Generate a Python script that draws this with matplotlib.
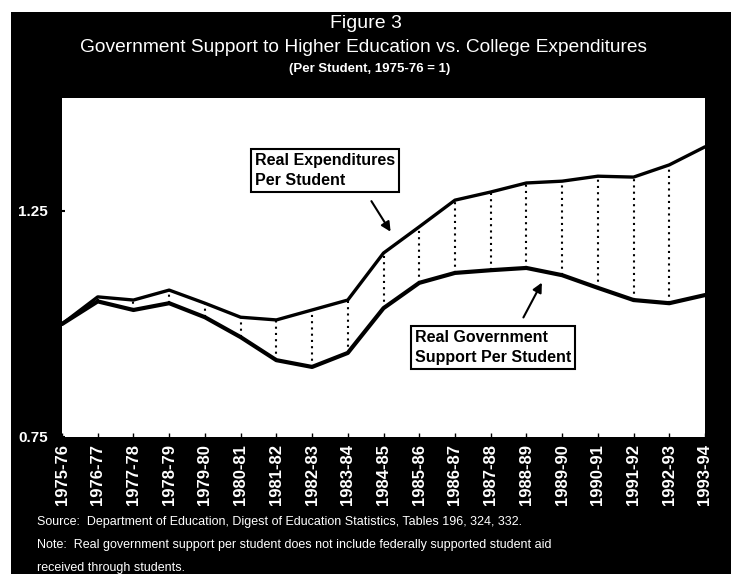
import matplotlib
matplotlib.use("Agg")
import matplotlib.pyplot as plt
from matplotlib.patches import Rectangle

# years on the x axis
years = ["1975-76", "1976-77", "1977-78", "1978-79", "1979-80", "1980-81",
         "1981-82", "1982-83", "1983-84", "1984-85", "1985-86", "1986-87",
         "1987-88", "1988-89", "1989-90", "1990-91", "1991-92", "1992-93",
         "1993-94"]

# index values (1975-76 = 1)
expenditures = [1.00, 1.06, 1.053, 1.075, 1.046, 1.015, 1.009, 1.031, 1.053,
                1.157, 1.215, 1.274, 1.292, 1.312, 1.316, 1.327, 1.325,
                1.352, 1.392]
gov_support = [1.00, 1.050, 1.031, 1.046, 1.015, 0.971, 0.920, 0.905, 0.936,
               1.035, 1.091, 1.113, 1.119, 1.124, 1.108, 1.080, 1.053,
               1.046, 1.064]

y_ticks = [0.75, 1.25]

W, H = 731, 574
fig = plt.figure(figsize=(W / 100, H / 100), dpi=100, facecolor="white")

# black panel behind everything
fig.patches.append(Rectangle((11 / W, 0), 1 - 11 / W, 1 - 12 / H,
                             transform=fig.transFigure, facecolor="black",
                             edgecolor="none", zorder=-10))

ax = fig.add_axes([62 / W, (H - 437) / H, (705 - 62) / W, (437 - 98) / H])
ax.set_zorder(1)
ax.set_facecolor("white")

x = list(range(len(years)))
ax.plot(x, expenditures, color="black", lw=2.4, solid_capstyle="round",
        solid_joinstyle="round")
ax.plot(x, gov_support, color="black", lw=3.0, solid_capstyle="round",
        solid_joinstyle="round")
ax.vlines(x[1:-1], gov_support[1:-1], expenditures[1:-1], colors="black",
          linestyles=(0, (1, 2)), lw=1.5)

ax.set_xlim(0, len(years) - 1)
ax.set_ylim(0.75, 1.5)

for s in ax.spines.values():
    s.set_visible(False)

ax.set_xticks(x)
ax.set_xticklabels(years, rotation=90, color="white", fontsize=12,
                   fontweight="bold", family="Liberation Sans")
ax.tick_params(axis="x", direction="in", length=3, width=1, color="black",
               pad=5)
ax.set_yticks(y_ticks)
ax.set_yticklabels([f"{v:.2f}" for v in y_ticks], color="white", fontsize=11,
                   fontweight="bold", family="Liberation Sans")
ax.tick_params(axis="y", direction="in", length=2, width=1.5, color="black",
               pad=10)

# annotation boxes
box = dict(boxstyle="square,pad=0.25", facecolor="white", edgecolor="black",
           lw=1.5)
ax.text(5.4, 1.34, "Real Expenditures\nPer Student", fontsize=11.5,
        fontweight="bold", family="Liberation Sans", va="center", ha="left",
        linespacing=1.45, bbox=box)
ax.annotate("", xy=(9.24, 1.199), xytext=(8.62, 1.277),
            arrowprops=dict(arrowstyle="-|>", color="black", lw=1.5,
                            mutation_scale=14))
ax.text(9.88, 0.948, "Real Government\nSupport Per Student", fontsize=11.5,
        fontweight="bold", family="Liberation Sans", va="center", ha="left",
        linespacing=1.45, bbox=box)
ax.annotate("", xy=(13.47, 1.097), xytext=(12.88, 1.009),
            arrowprops=dict(arrowstyle="-|>", color="black", lw=1.5,
                            mutation_scale=14))

# titles
fig.text(366 / W, 1 - 23 / H, "Figure 3", color="white", fontsize=14,
         family="Liberation Sans", ha="center", va="center")
fig.text(364 / W, 1 - 47 / H,
         "Government Support to Higher Education vs. College Expenditures",
         color="white", fontsize=13.8, family="Liberation Sans",
         ha="center", va="center")
fig.text(370 / W, 1 - 69 / H, "(Per Student, 1975-76 = 1)", color="white",
         fontsize=9.5, fontweight="bold", family="Liberation Sans",
         ha="center", va="center")

# notes
notes = ["Source:  Department of Education, Digest of Education Statistics, Tables 196, 324, 332.",
         "Note:  Real government support per student does not include federally supported student aid",
         "received through students."]
for i, line in enumerate(notes):
    fig.text(37 / W, 1 - (522 + 23 * i) / H, line, color="white",
             fontsize=9, family="Liberation Sans", ha="left", va="center")

fig.savefig("out.png", dpi=100, facecolor=fig.get_facecolor())
